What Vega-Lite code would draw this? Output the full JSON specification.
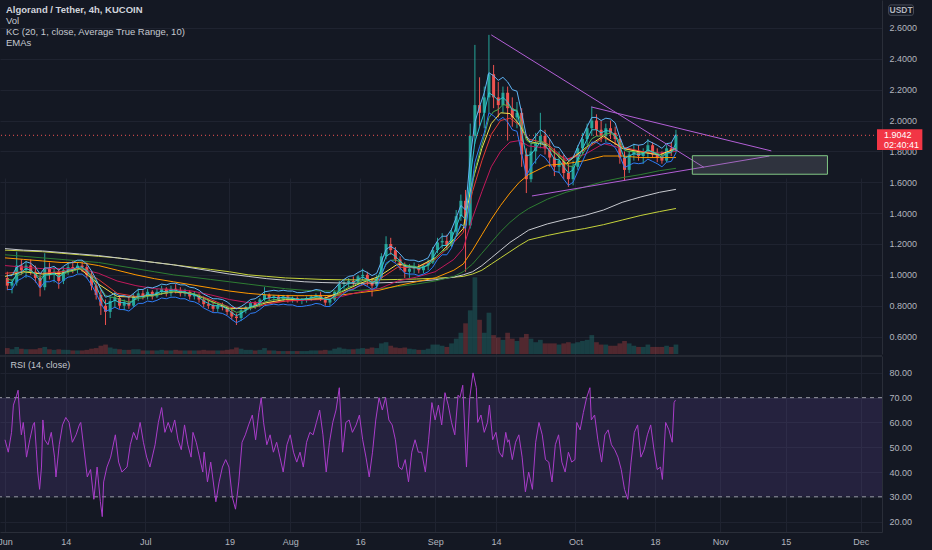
{
"$schema":"https://vega.github.io/schema/vega-lite/v6.json",
"width":882,"height":532,
"autosize":{"type":"none"},
"padding":{"left":0,"top":0,"right":50,"bottom":18},
"background":"#141823",
"config":{"view":{"stroke":null},"axis":{"labelFont":"Liberation Sans","labelFontSize":9,"labelColor":"#b2b5be","gridColor":"#1f2330","domainColor":"#2a2e39","ticks":false}},
"title":{"text":"Algorand / Tether, 4h, KUCOIN","subtitle":["Vol","KC (20, 1, close, Average True Range, 10)","EMAs"],"anchor":"start","frame":"group","orient":"top","offset":-47,"dx":6,"font":"Liberation Sans","fontSize":9.5,"fontWeight":"bold","color":"#d1d4dc","subtitleFont":"Liberation Sans","subtitleFontSize":9.5,"subtitleColor":"#c5c8d0","subtitleLineHeight":11,"subtitlePadding":1},
"datasets":{
"bars":[
{"d":0.5,"o":0.98,"h":1.02,"l":0.9,"c":0.93,"v":0.5,"u":0.995,"w":0.905,"s":0.95,"g":0.972},
{"d":1.5,"o":0.93,"h":0.97,"l":0.88,"c":0.95,"v":0.4,"u":0.995,"w":0.905,"s":0.95,"g":0.965},
{"d":2.5,"o":0.95,"h":1.15,"l":0.93,"c":1.06,"v":0.6,"u":1.05,"w":0.96,"s":1.005,"g":0.994},
{"d":3.5,"o":1.06,"h":1.1,"l":1.0,"c":1.03,"v":0.45,"u":1.065,"w":0.975,"s":1.02,"g":1.005},
{"d":4.5,"o":1.03,"h":1.09,"l":0.98,"c":1.06,"v":0.4,"u":1.085,"w":0.995,"s":1.04,"g":1.021},
{"d":5.5,"o":1.06,"h":1.1,"l":1.0,"c":1.02,"v":0.4,"u":1.075,"w":0.985,"s":1.03,"g":1.021},
{"d":6.5,"o":1.02,"h":1.06,"l":0.95,"c":0.98,"v":0.4,"u":1.05,"w":0.96,"s":1.005,"g":1.009},
{"d":7.5,"o":0.98,"h":1.0,"l":0.86,"c":0.92,"v":0.5,"u":1.005,"w":0.915,"s":0.96,"g":0.982},
{"d":8.5,"o":0.92,"h":1.14,"l":0.9,"c":1.04,"v":0.6,"u":1.045,"w":0.955,"s":1.0,"g":1.0},
{"d":9.5,"o":1.04,"h":1.08,"l":0.97,"c":1.0,"v":0.4,"u":1.045,"w":0.955,"s":1.0,"g":1.0},
{"d":10.5,"o":1.0,"h":1.05,"l":0.95,"c":1.02,"v":0.35,"u":1.055,"w":0.965,"s":1.01,"g":1.006},
{"d":11.5,"o":1.02,"h":1.04,"l":0.91,"c":0.96,"v":0.4,"u":1.03,"w":0.94,"s":0.985,"g":0.992},
{"d":12.5,"o":0.96,"h":1.05,"l":0.94,"c":1.03,"v":0.35,"u":1.055,"w":0.965,"s":1.01,"g":1.004},
{"d":13.5,"o":1.03,"h":1.08,"l":1.0,"c":1.05,"v":0.35,"u":1.075,"w":0.985,"s":1.03,"g":1.018},
{"d":14.5,"o":1.05,"h":1.09,"l":1.01,"c":1.04,"v":0.3,"u":1.08,"w":0.99,"s":1.035,"g":1.024},
{"d":15.5,"o":1.04,"h":1.08,"l":1.01,"c":1.06,"v":0.3,"u":1.095,"w":1.005,"s":1.05,"g":1.035},
{"d":16.5,"o":1.06,"h":1.09,"l":1.02,"c":1.05,"v":0.3,"u":1.095,"w":1.005,"s":1.05,"g":1.039},
{"d":17.5,"o":1.05,"h":1.08,"l":0.98,"c":1.0,"v":0.35,"u":1.07,"w":0.98,"s":1.025,"g":1.028},
{"d":18.5,"o":1.0,"h":1.02,"l":0.9,"c":0.93,"v":0.45,"u":1.025,"w":0.935,"s":0.98,"g":0.998},
{"d":19.5,"o":0.93,"h":0.96,"l":0.84,"c":0.87,"v":0.5,"u":0.97,"w":0.88,"s":0.925,"g":0.96},
{"d":20.5,"o":0.87,"h":0.9,"l":0.74,"c":0.8,"v":0.7,"u":0.905,"w":0.815,"s":0.86,"g":0.912},
{"d":21.5,"o":0.8,"h":0.84,"l":0.675,"c":0.76,"v":0.8,"u":0.855,"w":0.765,"s":0.81,"g":0.866},
{"d":22.5,"o":0.76,"h":0.86,"l":0.72,"c":0.83,"v":0.55,"u":0.865,"w":0.775,"s":0.82,"g":0.855},
{"d":23.5,"o":0.83,"h":0.89,"l":0.79,"c":0.85,"v":0.45,"u":0.88,"w":0.79,"s":0.835,"g":0.854},
{"d":24.5,"o":0.85,"h":0.87,"l":0.78,"c":0.8,"v":0.4,"u":0.865,"w":0.775,"s":0.82,"g":0.838},
{"d":25.5,"o":0.8,"h":0.84,"l":0.77,"c":0.82,"v":0.35,"u":0.865,"w":0.775,"s":0.82,"g":0.832},
{"d":26.5,"o":0.82,"h":0.86,"l":0.78,"c":0.8,"v":0.35,"u":0.855,"w":0.765,"s":0.81,"g":0.823},
{"d":27.5,"o":0.8,"h":0.88,"l":0.79,"c":0.86,"v":0.4,"u":0.88,"w":0.79,"s":0.835,"g":0.834},
{"d":28.5,"o":0.86,"h":0.91,"l":0.83,"c":0.88,"v":0.4,"u":0.905,"w":0.815,"s":0.86,"g":0.848},
{"d":29.5,"o":0.88,"h":0.9,"l":0.84,"c":0.86,"v":0.3,"u":0.905,"w":0.815,"s":0.86,"g":0.851},
{"d":30.5,"o":0.86,"h":0.91,"l":0.84,"c":0.89,"v":0.3,"u":0.92,"w":0.83,"s":0.875,"g":0.863},
{"d":31.5,"o":0.89,"h":0.9,"l":0.84,"c":0.86,"v":0.3,"u":0.915,"w":0.825,"s":0.87,"g":0.862},
{"d":32.5,"o":0.86,"h":0.91,"l":0.85,"c":0.89,"v":0.3,"u":0.925,"w":0.835,"s":0.88,"g":0.87},
{"d":33.5,"o":0.89,"h":0.93,"l":0.87,"c":0.91,"v":0.35,"u":0.94,"w":0.85,"s":0.895,"g":0.882},
{"d":34.5,"o":0.91,"h":0.92,"l":0.86,"c":0.88,"v":0.3,"u":0.935,"w":0.845,"s":0.89,"g":0.881},
{"d":35.5,"o":0.88,"h":0.93,"l":0.86,"c":0.91,"v":0.3,"u":0.945,"w":0.855,"s":0.9,"g":0.89},
{"d":36.5,"o":0.91,"h":0.94,"l":0.88,"c":0.9,"v":0.35,"u":0.945,"w":0.855,"s":0.9,"g":0.893},
{"d":37.5,"o":0.9,"h":0.92,"l":0.86,"c":0.88,"v":0.3,"u":0.935,"w":0.845,"s":0.89,"g":0.889},
{"d":38.5,"o":0.88,"h":0.91,"l":0.86,"c":0.89,"v":0.3,"u":0.935,"w":0.845,"s":0.89,"g":0.889},
{"d":39.5,"o":0.89,"h":0.9,"l":0.84,"c":0.86,"v":0.3,"u":0.92,"w":0.83,"s":0.875,"g":0.88},
{"d":40.5,"o":0.86,"h":0.89,"l":0.84,"c":0.87,"v":0.3,"u":0.915,"w":0.825,"s":0.87,"g":0.877},
{"d":41.5,"o":0.87,"h":0.88,"l":0.82,"c":0.84,"v":0.3,"u":0.9,"w":0.81,"s":0.855,"g":0.866},
{"d":42.5,"o":0.84,"h":0.86,"l":0.79,"c":0.81,"v":0.35,"u":0.875,"w":0.785,"s":0.83,"g":0.849},
{"d":43.5,"o":0.81,"h":0.84,"l":0.78,"c":0.8,"v":0.3,"u":0.86,"w":0.77,"s":0.815,"g":0.834},
{"d":44.5,"o":0.8,"h":0.82,"l":0.76,"c":0.78,"v":0.3,"u":0.845,"w":0.755,"s":0.8,"g":0.818},
{"d":45.5,"o":0.78,"h":0.81,"l":0.76,"c":0.8,"v":0.3,"u":0.845,"w":0.755,"s":0.8,"g":0.813},
{"d":46.5,"o":0.8,"h":0.82,"l":0.77,"c":0.79,"v":0.3,"u":0.84,"w":0.75,"s":0.795,"g":0.806},
{"d":47.5,"o":0.79,"h":0.8,"l":0.74,"c":0.76,"v":0.35,"u":0.825,"w":0.735,"s":0.78,"g":0.792},
{"d":48.5,"o":0.76,"h":0.78,"l":0.71,"c":0.73,"v":0.4,"u":0.8,"w":0.71,"s":0.755,"g":0.773},
{"d":49.5,"o":0.73,"h":0.75,"l":0.675,"c":0.72,"v":0.55,"u":0.78,"w":0.69,"s":0.735,"g":0.757},
{"d":50.5,"o":0.72,"h":0.78,"l":0.7,"c":0.77,"v":0.45,"u":0.795,"w":0.705,"s":0.75,"g":0.761},
{"d":51.5,"o":0.77,"h":0.8,"l":0.75,"c":0.79,"v":0.35,"u":0.815,"w":0.725,"s":0.77,"g":0.77},
{"d":52.5,"o":0.79,"h":0.83,"l":0.77,"c":0.82,"v":0.35,"u":0.84,"w":0.75,"s":0.795,"g":0.785},
{"d":53.5,"o":0.82,"h":0.83,"l":0.78,"c":0.8,"v":0.3,"u":0.845,"w":0.755,"s":0.8,"g":0.79},
{"d":54.5,"o":0.8,"h":0.85,"l":0.79,"c":0.84,"v":0.35,"u":0.865,"w":0.775,"s":0.82,"g":0.805},
{"d":55.5,"o":0.84,"h":0.92,"l":0.83,"c":0.87,"v":0.5,"u":0.89,"w":0.8,"s":0.845,"g":0.824},
{"d":56.5,"o":0.87,"h":0.88,"l":0.83,"c":0.85,"v":0.3,"u":0.895,"w":0.805,"s":0.85,"g":0.832},
{"d":57.5,"o":0.85,"h":0.87,"l":0.83,"c":0.86,"v":0.3,"u":0.9,"w":0.81,"s":0.855,"g":0.84},
{"d":58.5,"o":0.86,"h":0.87,"l":0.83,"c":0.84,"v":0.25,"u":0.895,"w":0.805,"s":0.85,"g":0.84},
{"d":59.5,"o":0.84,"h":0.87,"l":0.83,"c":0.86,"v":0.25,"u":0.9,"w":0.81,"s":0.855,"g":0.846},
{"d":60.5,"o":0.86,"h":0.87,"l":0.82,"c":0.84,"v":0.25,"u":0.895,"w":0.805,"s":0.85,"g":0.844},
{"d":61.5,"o":0.84,"h":0.86,"l":0.82,"c":0.85,"v":0.25,"u":0.895,"w":0.805,"s":0.85,"g":0.846},
{"d":62.5,"o":0.85,"h":0.86,"l":0.82,"c":0.83,"v":0.25,"u":0.885,"w":0.795,"s":0.84,"g":0.841},
{"d":63.5,"o":0.83,"h":0.85,"l":0.81,"c":0.84,"v":0.25,"u":0.885,"w":0.795,"s":0.84,"g":0.841},
{"d":64.5,"o":0.84,"h":0.86,"l":0.82,"c":0.85,"v":0.25,"u":0.89,"w":0.8,"s":0.845,"g":0.844},
{"d":65.5,"o":0.85,"h":0.87,"l":0.83,"c":0.86,"v":0.3,"u":0.895,"w":0.805,"s":0.85,"g":0.849},
{"d":66.5,"o":0.86,"h":0.88,"l":0.84,"c":0.87,"v":0.3,"u":0.905,"w":0.815,"s":0.86,"g":0.855},
{"d":67.5,"o":0.87,"h":0.89,"l":0.83,"c":0.85,"v":0.3,"u":0.9,"w":0.81,"s":0.855,"g":0.854},
{"d":68.5,"o":0.85,"h":0.86,"l":0.8,"c":0.82,"v":0.35,"u":0.885,"w":0.795,"s":0.84,"g":0.844},
{"d":69.5,"o":0.82,"h":0.85,"l":0.8,"c":0.84,"v":0.3,"u":0.885,"w":0.795,"s":0.84,"g":0.843},
{"d":70.5,"o":0.84,"h":0.9,"l":0.83,"c":0.89,"v":0.45,"u":0.91,"w":0.82,"s":0.865,"g":0.857},
{"d":71.5,"o":0.89,"h":0.96,"l":0.88,"c":0.94,"v":0.55,"u":0.945,"w":0.855,"s":0.9,"g":0.882},
{"d":72.5,"o":0.94,"h":0.97,"l":0.91,"c":0.95,"v":0.45,"u":0.97,"w":0.88,"s":0.925,"g":0.902},
{"d":73.5,"o":0.95,"h":0.98,"l":0.92,"c":0.96,"v":0.4,"u":0.99,"w":0.9,"s":0.945,"g":0.92},
{"d":74.5,"o":0.96,"h":0.99,"l":0.92,"c":0.95,"v":0.4,"u":0.995,"w":0.905,"s":0.95,"g":0.929},
{"d":75.5,"o":0.95,"h":1.0,"l":0.94,"c":0.99,"v":0.45,"u":1.015,"w":0.925,"s":0.97,"g":0.947},
{"d":76.5,"o":0.99,"h":1.04,"l":0.96,"c":1.0,"v":0.5,"u":1.03,"w":0.94,"s":0.985,"g":0.963},
{"d":77.5,"o":1.0,"h":1.02,"l":0.93,"c":0.96,"v":0.45,"u":1.015,"w":0.925,"s":0.97,"g":0.962},
{"d":78.5,"o":0.96,"h":0.98,"l":0.86,"c":0.93,"v":0.55,"u":0.995,"w":0.905,"s":0.95,"g":0.952},
{"d":79.5,"o":0.93,"h":1.0,"l":0.91,"c":0.98,"v":0.5,"u":1.01,"w":0.92,"s":0.965,"g":0.96},
{"d":80.5,"o":0.98,"h":1.14,"l":0.97,"c":1.12,"v":0.9,"u":1.085,"w":0.995,"s":1.04,"g":1.008},
{"d":81.5,"o":1.12,"h":1.25,"l":1.1,"c":1.2,"v":1.0,"u":1.165,"w":1.075,"s":1.12,"g":1.066},
{"d":82.5,"o":1.2,"h":1.24,"l":1.13,"c":1.16,"v":0.7,"u":1.185,"w":1.095,"s":1.14,"g":1.094},
{"d":83.5,"o":1.16,"h":1.18,"l":1.08,"c":1.1,"v":0.55,"u":1.165,"w":1.075,"s":1.12,"g":1.096},
{"d":84.5,"o":1.1,"h":1.12,"l":1.03,"c":1.06,"v":0.5,"u":1.135,"w":1.045,"s":1.09,"g":1.085},
{"d":85.5,"o":1.06,"h":1.08,"l":0.98,"c":1.02,"v":0.55,"u":1.1,"w":1.01,"s":1.055,"g":1.066},
{"d":86.5,"o":1.02,"h":1.07,"l":0.98,"c":1.04,"v":0.45,"u":1.095,"w":1.005,"s":1.05,"g":1.058},
{"d":87.5,"o":1.04,"h":1.08,"l":1.01,"c":1.05,"v":0.4,"u":1.095,"w":1.005,"s":1.05,"g":1.056},
{"d":88.5,"o":1.05,"h":1.07,"l":1.01,"c":1.03,"v":0.35,"u":1.085,"w":0.995,"s":1.04,"g":1.048},
{"d":89.5,"o":1.03,"h":1.07,"l":1.01,"c":1.06,"v":0.35,"u":1.095,"w":1.005,"s":1.05,"g":1.052},
{"d":90.5,"o":1.06,"h":1.1,"l":1.03,"c":1.08,"v":0.45,"u":1.11,"w":1.02,"s":1.065,"g":1.06},
{"d":91.5,"o":1.08,"h":1.18,"l":1.07,"c":1.16,"v":0.8,"u":1.17,"w":1.05,"s":1.11,"g":1.09},
{"d":92.5,"o":1.16,"h":1.24,"l":1.14,"c":1.21,"v":0.8,"u":1.22,"w":1.1,"s":1.16,"g":1.126},
{"d":93.5,"o":1.21,"h":1.27,"l":1.17,"c":1.22,"v":0.7,"u":1.25,"w":1.13,"s":1.19,"g":1.154},
{"d":94.5,"o":1.22,"h":1.26,"l":1.16,"c":1.19,"v":0.6,"u":1.25,"w":1.13,"s":1.19,"g":1.165},
{"d":95.5,"o":1.19,"h":1.3,"l":1.18,"c":1.28,"v":0.9,"u":1.295,"w":1.175,"s":1.235,"g":1.2},
{"d":96.5,"o":1.28,"h":1.42,"l":1.26,"c":1.38,"v":1.3,"u":1.37,"w":1.25,"s":1.31,"g":1.254},
{"d":97.5,"o":1.38,"h":1.52,"l":1.35,"c":1.48,"v":1.8,"u":1.45,"w":1.33,"s":1.39,"g":1.322},
{"d":98.5,"o":1.48,"h":1.55,"l":1.02,"c":1.32,"v":2.6,"u":1.42,"w":1.3,"s":1.36,"g":1.321},
{"d":99.5,"o":1.32,"h":1.98,"l":1.3,"c":1.9,"v":3.7,"u":1.76,"w":1.5,"s":1.63,"g":1.495},
{"d":100.5,"o":1.9,"h":2.49,"l":1.85,"c":2.1,"v":6.5,"u":1.99,"w":1.73,"s":1.86,"g":1.677},
{"d":101.5,"o":2.1,"h":2.28,"l":1.96,"c":2.05,"v":2.9,"u":2.09,"w":1.83,"s":1.96,"g":1.789},
{"d":102.5,"o":2.05,"h":2.22,"l":1.95,"c":2.15,"v":1.8,"u":2.18,"w":1.92,"s":2.05,"g":1.897},
{"d":103.5,"o":2.15,"h":2.555,"l":2.05,"c":2.3,"v":3.5,"u":2.31,"w":2.05,"s":2.18,"g":2.018},
{"d":104.5,"o":2.3,"h":2.36,"l":2.08,"c":2.15,"v":1.6,"u":2.29,"w":2.03,"s":2.16,"g":2.058},
{"d":105.5,"o":2.15,"h":2.25,"l":2.02,"c":2.1,"v":1.4,"u":2.26,"w":2.0,"s":2.13,"g":2.071},
{"d":106.5,"o":2.1,"h":2.22,"l":2.05,"c":2.18,"v":1.2,"u":2.28,"w":2.02,"s":2.15,"g":2.104},
{"d":107.5,"o":2.18,"h":2.22,"l":1.87,"c":2.08,"v":1.8,"u":2.25,"w":1.99,"s":2.12,"g":2.097},
{"d":108.5,"o":2.08,"h":2.15,"l":1.96,"c":2.02,"v":1.3,"u":2.2,"w":1.94,"s":2.07,"g":2.074},
{"d":109.5,"o":2.02,"h":2.12,"l":1.95,"c":2.05,"v":1.1,"u":2.19,"w":1.93,"s":2.06,"g":2.067},
{"d":110.5,"o":2.05,"h":2.08,"l":1.7,"c":1.78,"v":1.4,"u":2.05,"w":1.79,"s":1.92,"g":1.981},
{"d":111.5,"o":1.78,"h":1.82,"l":1.53,"c":1.62,"v":1.7,"u":1.9,"w":1.64,"s":1.77,"g":1.873},
{"d":112.5,"o":1.62,"h":1.85,"l":1.6,"c":1.8,"v":1.3,"u":1.86,"w":1.7,"s":1.78,"g":1.851},
{"d":113.5,"o":1.8,"h":1.92,"l":1.72,"c":1.86,"v":1.0,"u":1.9,"w":1.74,"s":1.82,"g":1.854},
{"d":114.5,"o":1.86,"h":2.05,"l":1.82,"c":1.9,"v":1.2,"u":1.94,"w":1.78,"s":1.86,"g":1.868},
{"d":115.5,"o":1.9,"h":1.94,"l":1.78,"c":1.82,"v":0.9,"u":1.92,"w":1.76,"s":1.84,"g":1.854},
{"d":116.5,"o":1.82,"h":1.88,"l":1.7,"c":1.76,"v":0.9,"u":1.88,"w":1.72,"s":1.8,"g":1.826},
{"d":117.5,"o":1.76,"h":1.82,"l":1.64,"c":1.7,"v":0.9,"u":1.83,"w":1.67,"s":1.75,"g":1.788},
{"d":118.5,"o":1.7,"h":1.8,"l":1.66,"c":1.74,"v":0.8,"u":1.825,"w":1.665,"s":1.745,"g":1.774},
{"d":119.5,"o":1.74,"h":1.78,"l":1.62,"c":1.66,"v":0.9,"u":1.78,"w":1.62,"s":1.7,"g":1.74},
{"d":120.5,"o":1.66,"h":1.72,"l":1.57,"c":1.62,"v":1.0,"u":1.74,"w":1.58,"s":1.66,"g":1.704},
{"d":121.5,"o":1.62,"h":1.74,"l":1.58,"c":1.7,"v":0.9,"u":1.76,"w":1.6,"s":1.68,"g":1.703},
{"d":122.5,"o":1.7,"h":1.84,"l":1.68,"c":1.82,"v":1.0,"u":1.83,"w":1.67,"s":1.75,"g":1.738},
{"d":123.5,"o":1.82,"h":1.92,"l":1.78,"c":1.88,"v":1.1,"u":1.895,"w":1.735,"s":1.815,"g":1.781},
{"d":124.5,"o":1.88,"h":1.98,"l":1.84,"c":1.95,"v":1.2,"u":1.96,"w":1.8,"s":1.88,"g":1.832},
{"d":125.5,"o":1.95,"h":2.09,"l":1.9,"c":2.0,"v":1.6,"u":2.02,"w":1.86,"s":1.94,"g":1.882},
{"d":126.5,"o":2.0,"h":2.04,"l":1.9,"c":1.94,"v":1.0,"u":2.02,"w":1.86,"s":1.94,"g":1.899},
{"d":127.5,"o":1.94,"h":2.0,"l":1.86,"c":1.9,"v":0.8,"u":2.0,"w":1.84,"s":1.92,"g":1.899},
{"d":128.5,"o":1.9,"h":1.98,"l":1.86,"c":1.95,"v":0.8,"u":2.015,"w":1.855,"s":1.935,"g":1.914},
{"d":129.5,"o":1.95,"h":2.0,"l":1.88,"c":1.92,"v":0.7,"u":2.01,"w":1.85,"s":1.93,"g":1.916},
{"d":130.5,"o":1.92,"h":1.96,"l":1.84,"c":1.88,"v":0.7,"u":1.985,"w":1.825,"s":1.905,"g":1.905},
{"d":131.5,"o":1.88,"h":1.9,"l":1.72,"c":1.76,"v":0.9,"u":1.89,"w":1.77,"s":1.83,"g":1.862},
{"d":132.5,"o":1.76,"h":1.8,"l":1.61,"c":1.68,"v":1.1,"u":1.815,"w":1.695,"s":1.755,"g":1.807},
{"d":133.5,"o":1.68,"h":1.8,"l":1.66,"c":1.78,"v":0.9,"u":1.83,"w":1.71,"s":1.77,"g":1.799},
{"d":134.5,"o":1.78,"h":1.85,"l":1.74,"c":1.8,"v":0.7,"u":1.845,"w":1.725,"s":1.785,"g":1.799},
{"d":135.5,"o":1.8,"h":1.84,"l":1.74,"c":1.77,"v":0.6,"u":1.84,"w":1.72,"s":1.78,"g":1.79},
{"d":136.5,"o":1.77,"h":1.82,"l":1.72,"c":1.79,"v":0.6,"u":1.845,"w":1.725,"s":1.785,"g":1.79},
{"d":137.5,"o":1.79,"h":1.88,"l":1.76,"c":1.84,"v":0.8,"u":1.87,"w":1.75,"s":1.81,"g":1.805},
{"d":138.5,"o":1.84,"h":1.86,"l":1.76,"c":1.78,"v":0.6,"u":1.855,"w":1.735,"s":1.795,"g":1.798},
{"d":139.5,"o":1.78,"h":1.82,"l":1.73,"c":1.76,"v":0.6,"u":1.84,"w":1.72,"s":1.78,"g":1.787},
{"d":140.5,"o":1.76,"h":1.8,"l":1.72,"c":1.74,"v":0.6,"u":1.82,"w":1.7,"s":1.76,"g":1.773},
{"d":141.5,"o":1.74,"h":1.84,"l":1.73,"c":1.82,"v":0.7,"u":1.85,"w":1.73,"s":1.79,"g":1.787},
{"d":142.5,"o":1.82,"h":1.86,"l":1.77,"c":1.8,"v":0.6,"u":1.855,"w":1.735,"s":1.795,"g":1.791},
{"d":143.5,"o":1.8,"h":1.94,"l":1.79,"c":1.904,"v":0.8,"u":1.91,"w":1.79,"s":1.85,"g":1.825}
],
"ema":[
{"d":0,"ye":0.99,"re":1.01,"mg":1.06,"or":1.11,"dg":1.13,"gy":1.17,"ol":1.16},
{"d":4,"ye":1.02,"re":1.02,"mg":1.05,"or":1.1,"dg":1.12,"gy":1.16,"ol":1.155},
{"d":8,"ye":1.005,"re":1.01,"mg":1.04,"or":1.09,"dg":1.11,"gy":1.155,"ol":1.15},
{"d":12,"ye":1.01,"re":1.02,"mg":1.04,"or":1.08,"dg":1.1,"gy":1.145,"ol":1.14},
{"d":16,"ye":1.04,"re":1.04,"mg":1.04,"or":1.08,"dg":1.09,"gy":1.135,"ol":1.13},
{"d":20,"ye":0.94,"re":0.97,"mg":1.01,"or":1.06,"dg":1.08,"gy":1.125,"ol":1.12},
{"d":24,"ye":0.86,"re":0.88,"mg":0.96,"or":1.03,"dg":1.06,"gy":1.11,"ol":1.11},
{"d":28,"ye":0.855,"re":0.86,"mg":0.93,"or":1.0,"dg":1.04,"gy":1.095,"ol":1.095},
{"d":32,"ye":0.87,"re":0.87,"mg":0.91,"or":0.975,"dg":1.02,"gy":1.08,"ol":1.08},
{"d":36,"ye":0.89,"re":0.89,"mg":0.905,"or":0.955,"dg":1.0,"gy":1.065,"ol":1.065},
{"d":40,"ye":0.88,"re":0.88,"mg":0.895,"or":0.935,"dg":0.985,"gy":1.045,"ol":1.05},
{"d":44,"ye":0.83,"re":0.84,"mg":0.87,"or":0.915,"dg":0.97,"gy":1.025,"ol":1.035},
{"d":48,"ye":0.78,"re":0.79,"mg":0.84,"or":0.895,"dg":0.955,"gy":1.005,"ol":1.02},
{"d":52,"ye":0.785,"re":0.78,"mg":0.82,"or":0.88,"dg":0.94,"gy":0.99,"ol":1.0},
{"d":56,"ye":0.82,"re":0.81,"mg":0.82,"or":0.87,"dg":0.925,"gy":0.975,"ol":0.99},
{"d":60,"ye":0.84,"re":0.83,"mg":0.83,"or":0.865,"dg":0.91,"gy":0.965,"ol":0.98},
{"d":64,"ye":0.842,"re":0.84,"mg":0.835,"or":0.865,"dg":0.9,"gy":0.955,"ol":0.975},
{"d":68,"ye":0.845,"re":0.845,"mg":0.84,"or":0.865,"dg":0.895,"gy":0.95,"ol":0.97},
{"d":72,"ye":0.89,"re":0.88,"mg":0.86,"or":0.87,"dg":0.895,"gy":0.947,"ol":0.968},
{"d":76,"ye":0.945,"re":0.93,"mg":0.89,"or":0.885,"dg":0.9,"gy":0.945,"ol":0.967},
{"d":80,"ye":0.99,"re":0.97,"mg":0.91,"or":0.9,"dg":0.91,"gy":0.948,"ol":0.968},
{"d":84,"ye":1.07,"re":1.05,"mg":0.96,"or":0.93,"dg":0.925,"gy":0.952,"ol":0.97},
{"d":88,"ye":1.047,"re":1.045,"mg":0.985,"or":0.955,"dg":0.94,"gy":0.958,"ol":0.973},
{"d":92,"ye":1.11,"re":1.1,"mg":1.02,"or":0.98,"dg":0.96,"gy":0.968,"ol":0.978},
{"d":96,"ye":1.23,"re":1.21,"mg":1.1,"or":1.03,"dg":0.99,"gy":0.985,"ol":0.985},
{"d":98,"ye":1.3,"re":1.275,"mg":1.17,"or":1.07,"dg":1.02,"gy":1.0,"ol":0.99},
{"d":100,"ye":1.61,"re":1.54,"mg":1.37,"or":1.16,"dg":1.07,"gy":1.02,"ol":1.005},
{"d":102,"ye":1.82,"re":1.74,"mg":1.54,"or":1.26,"dg":1.14,"gy":1.06,"ol":1.03},
{"d":104,"ye":1.98,"re":1.91,"mg":1.7,"or":1.36,"dg":1.21,"gy":1.11,"ol":1.07},
{"d":106,"ye":2.05,"re":2.0,"mg":1.8,"or":1.45,"dg":1.28,"gy":1.16,"ol":1.11},
{"d":108,"ye":2.045,"re":2.015,"mg":1.86,"or":1.53,"dg":1.34,"gy":1.21,"ol":1.15},
{"d":110,"ye":1.975,"re":1.97,"mg":1.87,"or":1.6,"dg":1.39,"gy":1.25,"ol":1.19},
{"d":112,"ye":1.865,"re":1.88,"mg":1.835,"or":1.65,"dg":1.43,"gy":1.29,"ol":1.226},
{"d":116,"ye":1.84,"re":1.85,"mg":1.82,"or":1.71,"dg":1.49,"gy":1.33,"ol":1.255},
{"d":120,"ye":1.72,"re":1.74,"mg":1.75,"or":1.72,"dg":1.535,"gy":1.36,"ol":1.28},
{"d":124,"ye":1.82,"re":1.81,"mg":1.78,"or":1.74,"dg":1.57,"gy":1.385,"ol":1.3},
{"d":128,"ye":1.9,"re":1.89,"mg":1.85,"or":1.77,"dg":1.605,"gy":1.42,"ol":1.325},
{"d":132,"ye":1.82,"re":1.83,"mg":1.82,"or":1.77,"dg":1.63,"gy":1.47,"ol":1.355},
{"d":136,"ye":1.795,"re":1.8,"mg":1.8,"or":1.76,"dg":1.65,"gy":1.505,"ol":1.385},
{"d":140,"ye":1.777,"re":1.78,"mg":1.79,"or":1.76,"dg":1.675,"gy":1.535,"ol":1.41},
{"d":143.5,"ye":1.82,"re":1.815,"mg":1.8,"or":1.76,"dg":1.69,"gy":1.554,"ol":1.43}
],
"rsi":[
{"d":0.0,"r":53},{"d":0.7,"r":48},{"d":1.4,"r":56},{"d":1.8,"r":67},{"d":2.5,"r":71},{"d":2.8,"r":73},{"d":3.2,"r":61},{"d":3.5,"r":55},{"d":3.9,"r":60},{"d":4.2,"r":55},{"d":4.6,"r":46},{"d":5.3,"r":53},{"d":6.0,"r":59},{"d":6.3,"r":60},{"d":6.7,"r":49},{"d":7.0,"r":40},{"d":7.4,"r":33},{"d":7.8,"r":42},{"d":8.1,"r":61},{"d":8.5,"r":53},{"d":9.2,"r":51},{"d":9.9,"r":56},{"d":10.6,"r":46},{"d":10.9,"r":38},{"d":11.6,"r":51},{"d":12.3,"r":59},{"d":13.0,"r":62},{"d":13.7,"r":60},{"d":14.4,"r":52},{"d":15.2,"r":55},{"d":15.9,"r":59},{"d":16.2,"r":60},{"d":16.9,"r":49},{"d":17.6,"r":38},{"d":18.3,"r":41},{"d":19.0,"r":29},{"d":19.7,"r":42},{"d":20.4,"r":28},{"d":20.8,"r":22},{"d":21.1,"r":36},{"d":21.8,"r":42},{"d":22.6,"r":46},{"d":23.6,"r":55},{"d":24.3,"r":44},{"d":25.0,"r":40},{"d":26.1,"r":42},{"d":26.8,"r":51},{"d":27.5,"r":56},{"d":28.2,"r":53},{"d":28.9,"r":60},{"d":29.6,"r":52},{"d":30.3,"r":46},{"d":31.0,"r":42},{"d":32.1,"r":51},{"d":32.8,"r":60},{"d":33.5,"r":66},{"d":34.2,"r":56},{"d":34.9,"r":60},{"d":35.6,"r":56},{"d":36.3,"r":61},{"d":37.0,"r":53},{"d":37.7,"r":49},{"d":38.4,"r":59},{"d":39.1,"r":51},{"d":39.8,"r":46},{"d":40.2,"r":56},{"d":40.9,"r":52},{"d":41.6,"r":46},{"d":42.3,"r":40},{"d":42.6,"r":48},{"d":43.3,"r":36},{"d":44.0,"r":44},{"d":45.1,"r":28},{"d":45.8,"r":36},{"d":46.5,"r":42},{"d":47.2,"r":45},{"d":47.9,"r":42},{"d":48.6,"r":30},{"d":49.3,"r":25},{"d":50.0,"r":36},{"d":50.7,"r":52},{"d":51.4,"r":55},{"d":52.1,"r":59},{"d":52.9,"r":63},{"d":53.6,"r":53},{"d":54.3,"r":64},{"d":54.8,"r":70},{"d":55.3,"r":60},{"d":56.0,"r":51},{"d":56.7,"r":55},{"d":57.4,"r":48},{"d":58.1,"r":52},{"d":58.8,"r":46},{"d":59.5,"r":40},{"d":60.3,"r":51},{"d":61.0,"r":55},{"d":61.7,"r":48},{"d":62.4,"r":44},{"d":63.1,"r":48},{"d":63.8,"r":42},{"d":64.5,"r":52},{"d":65.2,"r":56},{"d":65.9,"r":55},{"d":66.6,"r":60},{"d":67.3,"r":65},{"d":68.0,"r":55},{"d":68.7,"r":40},{"d":69.4,"r":52},{"d":70.1,"r":60},{"d":70.8,"r":65},{"d":71.5,"r":74},{"d":72.2,"r":48},{"d":72.9,"r":60},{"d":73.6,"r":61},{"d":74.3,"r":56},{"d":75.1,"r":59},{"d":75.8,"r":63},{"d":76.5,"r":53},{"d":77.2,"r":46},{"d":77.9,"r":38},{"d":78.6,"r":48},{"d":79.3,"r":61},{"d":80.0,"r":70},{"d":80.7,"r":65},{"d":81.4,"r":70},{"d":82.1,"r":61},{"d":82.8,"r":59},{"d":83.5,"r":53},{"d":84.2,"r":42},{"d":84.9,"r":41},{"d":85.6,"r":45},{"d":86.3,"r":36},{"d":87.0,"r":48},{"d":87.7,"r":53},{"d":88.4,"r":48},{"d":89.1,"r":48},{"d":89.9,"r":40},{"d":90.6,"r":53},{"d":91.3,"r":68},{"d":92.0,"r":61},{"d":92.7,"r":67},{"d":93.4,"r":59},{"d":94.1,"r":72},{"d":94.8,"r":67},{"d":95.5,"r":60},{"d":96.2,"r":55},{"d":96.9,"r":71},{"d":97.3,"r":70},{"d":97.9,"r":75},{"d":98.7,"r":42},{"d":99.4,"r":70},{"d":100.1,"r":80},{"d":100.8,"r":74},{"d":101.1,"r":60},{"d":101.8,"r":63},{"d":102.5,"r":56},{"d":103.2,"r":60},{"d":103.6,"r":67},{"d":104.3,"r":53},{"d":105.0,"r":56},{"d":105.7,"r":48},{"d":106.4,"r":46},{"d":107.1,"r":56},{"d":107.5,"r":52},{"d":107.8,"r":53},{"d":108.5,"r":45},{"d":109.2,"r":52},{"d":109.9,"r":55},{"d":110.6,"r":46},{"d":111.3,"r":32},{"d":112.0,"r":40},{"d":112.8,"r":33},{"d":113.5,"r":52},{"d":114.2,"r":60},{"d":114.9,"r":55},{"d":115.6,"r":45},{"d":116.3,"r":44},{"d":117.0,"r":36},{"d":117.7,"r":51},{"d":118.4,"r":55},{"d":119.1,"r":44},{"d":119.8,"r":40},{"d":120.5,"r":48},{"d":121.2,"r":44},{"d":121.9,"r":45},{"d":122.3,"r":60},{"d":123.0,"r":57},{"d":123.7,"r":64},{"d":124.4,"r":70},{"d":125.1,"r":74},{"d":125.4,"r":61},{"d":126.1,"r":63},{"d":126.8,"r":53},{"d":127.6,"r":44},{"d":128.3,"r":55},{"d":129.0,"r":57},{"d":129.7,"r":51},{"d":130.4,"r":49},{"d":131.1,"r":46},{"d":131.8,"r":41},{"d":132.5,"r":33},{"d":133.2,"r":29},{"d":133.9,"r":44},{"d":134.6,"r":56},{"d":135.3,"r":59},{"d":136.0,"r":46},{"d":136.7,"r":49},{"d":137.4,"r":55},{"d":138.1,"r":59},{"d":138.8,"r":49},{"d":139.5,"r":41},{"d":140.2,"r":42},{"d":140.6,"r":37},{"d":141.3,"r":60},{"d":142.0,"r":57},{"d":142.7,"r":52},{"d":143.1,"r":68},{"d":143.4,"r":69}
],
"tl":[{"id":1,"d":104.0,"p":2.555},{"id":1,"d":149.5,"p":1.696},{"id":2,"d":125.4,"p":2.088},{"id":2,"d":163.9,"p":1.803},{"id":3,"d":112.7,"p":1.511},{"id":3,"d":163.5,"p":1.77}],
"zone":[{"d1":147.0,"d2":175.9,"p1":1.772,"p2":1.652}]
},
"layer":[
{"layer":[
 {"data":{"name":"bars"},"mark":{"type":"bar","width":4.7,"opacity":0.28},
  "encoding":{
   "x":{"field":"d","type":"quantitative","scale":{"domain":[0,186.5],"nice":false,"zero":false},
     "axis":{"orient":"bottom","title":null,"values":[0,13,30,48,61,76,92,105,122,139,153,167,183],
       "labelExpr":"['Jun','14','Jul','19','Aug','16','Sep','14','Oct','18','Nov','15','Dec'][indexof([0,13,30,48,61,76,92,105,122,139,153,167,183], datum.value)]",
       "grid":true,"labelPadding":5,"labelOverlap":false,"labelFlush":false,"labelBound":false}},
   "y":{"field":"v","type":"quantitative","scale":{"domain":[0,30],"range":[354,0],"nice":false},"axis":null},
   "color":{"condition":{"test":"datum.c >= datum.o","value":"#26a69a"},"value":"#ef5350"}}}
]},
{"layer":[
 {"data":{"name":"bars"},"mark":{"type":"rule","strokeWidth":1},
  "encoding":{
   "x":{"field":"d","type":"quantitative","scale":{"domain":[0,186.5],"nice":false,"zero":false}},
   "y":{"field":"l","type":"quantitative","scale":{"domain":[0.487,2.781],"range":[354,0],"nice":false,"zero":false},
     "axis":{"orient":"right","title":null,"values":[0.6,0.8,1,1.2,1.4,1.6,1.8,2,2.2,2.4,2.6],"format":".4f","grid":true,"labelPadding":7}},
   "y2":{"field":"h"},
   "color":{"condition":{"test":"datum.c >= datum.o","value":"#26a69a"},"value":"#ef5350"}}},
 {"data":{"name":"bars"},"mark":{"type":"bar","width":3},
  "encoding":{
   "x":{"field":"d","type":"quantitative","scale":{"domain":[0,186.5],"nice":false,"zero":false}},
   "y":{"field":"o","type":"quantitative","scale":{"domain":[0.487,2.781],"range":[354,0],"nice":false,"zero":false}},
   "y2":{"field":"c"},
   "color":{"condition":{"test":"datum.c >= datum.o","value":"#26a69a"},"value":"#ef5350"}}},
 {"data":{"name":"ema"},"transform":[{"fold":["ol","gy","dg","or","mg","re","ye"],"as":["k","val"]}],
  "mark":{"type":"line","strokeWidth":1},
  "encoding":{
   "x":{"field":"d","type":"quantitative","scale":{"domain":[0,186.5],"nice":false,"zero":false}},
   "y":{"field":"val","type":"quantitative","scale":{"domain":[0.487,2.781],"range":[354,0],"nice":false,"zero":false}},
   "color":{"field":"k","type":"nominal","legend":null,"scale":{"domain":["u","w","s","g","ye","re","mg","or","dg","gy","ol"],"range":["#5fb4f5","#2f7df6","#2ec4d6","#4caf50","#f5e04a","#e53935","#c2185b","#ff9800","#2e7d32","#c7c9cf","#c6d33b"]}}}},
 {"data":{"name":"bars"},"transform":[{"fold":["g","s","w","u"],"as":["k","val"]}],
  "mark":{"type":"line","strokeWidth":1},
  "encoding":{
   "x":{"field":"d","type":"quantitative","scale":{"domain":[0,186.5],"nice":false,"zero":false}},
   "y":{"field":"val","type":"quantitative","scale":{"domain":[0.487,2.781],"range":[354,0],"nice":false,"zero":false}},
   "color":{"field":"k","type":"nominal","legend":null,"scale":{"domain":["u","w","s","g","ye","re","mg","or","dg","gy","ol"],"range":["#5fb4f5","#2f7df6","#2ec4d6","#4caf50","#f5e04a","#e53935","#c2185b","#ff9800","#2e7d32","#c7c9cf","#c6d33b"]}}}},
 {"data":{"name":"tl"},"mark":{"type":"line","color":"#b35fd6","strokeWidth":1},
  "encoding":{
   "x":{"field":"d","type":"quantitative","scale":{"domain":[0,186.5],"nice":false,"zero":false}},
   "y":{"field":"p","type":"quantitative","scale":{"domain":[0.487,2.781],"range":[354,0],"nice":false,"zero":false}},
   "detail":{"field":"id","type":"nominal"}}},
 {"data":{"name":"zone"},"mark":{"type":"rect","fill":"#787b86","fillOpacity":0.28,"stroke":"#81c784","strokeWidth":1},
  "encoding":{
   "x":{"field":"d1","type":"quantitative","scale":{"domain":[0,186.5],"nice":false,"zero":false}},
   "x2":{"field":"d2"},
   "y":{"field":"p1","type":"quantitative","scale":{"domain":[0.487,2.781],"range":[354,0],"nice":false,"zero":false}},
   "y2":{"field":"p2"}}},
 {"data":{"values":[{}]},"mark":{"type":"rule","color":"#ef5350","strokeDash":[1,3],"strokeWidth":1},
  "encoding":{"y":{"datum":1.9042,"type":"quantitative","scale":{"domain":[0.487,2.781],"range":[354,0],"nice":false,"zero":false}}}},
 {"data":{"values":[{}]},"mark":{"type":"rect","color":"#f23645"},
  "encoding":{
   "x":{"datum":186.5,"type":"quantitative","scale":{"domain":[0,186.5],"nice":false,"zero":false}},"x2":{"datum":196.2},
   "y":{"datum":1.943,"type":"quantitative","scale":{"domain":[0.487,2.781],"range":[354,0],"nice":false,"zero":false}},"y2":{"datum":1.809}}},
 {"data":{"values":[{}]},"mark":{"type":"text","align":"left","baseline":"middle","color":"#ffffff","font":"Liberation Sans","fontSize":9,"text":"1.9042"},
  "encoding":{
   "x":{"datum":188.0,"type":"quantitative","scale":{"domain":[0,186.5],"nice":false,"zero":false}},
   "y":{"datum":1.9042,"type":"quantitative","scale":{"domain":[0.487,2.781],"range":[354,0],"nice":false,"zero":false}}}},
 {"data":{"values":[{}]},"mark":{"type":"text","align":"left","baseline":"middle","color":"#ffffff","font":"Liberation Sans","fontSize":9,"text":"02:40:41"},
  "encoding":{
   "x":{"datum":188.0,"type":"quantitative","scale":{"domain":[0,186.5],"nice":false,"zero":false}},
   "y":{"datum":1.8445,"type":"quantitative","scale":{"domain":[0.487,2.781],"range":[354,0],"nice":false,"zero":false}}}},
 {"data":{"values":[{}]},"mark":{"type":"rect","fillOpacity":0,"stroke":"#4a4e5a","strokeWidth":1,"cornerRadius":2},
  "encoding":{
   "x":{"datum":189.0,"type":"quantitative","scale":{"domain":[0,186.5],"nice":false,"zero":false}},"x2":{"datum":194.3},
   "y":{"datum":2.749,"type":"quantitative","scale":{"domain":[0.487,2.781],"range":[354,0],"nice":false,"zero":false}},"y2":{"datum":2.682}}},
 {"data":{"values":[{}]},"mark":{"type":"text","align":"center","baseline":"middle","color":"#b2b5be","font":"Liberation Sans","fontSize":8.5,"fontWeight":"bold","text":"USDT"},
  "encoding":{
   "x":{"datum":191.65,"type":"quantitative","scale":{"domain":[0,186.5],"nice":false,"zero":false}},
   "y":{"datum":2.716,"type":"quantitative","scale":{"domain":[0.487,2.781],"range":[354,0],"nice":false,"zero":false}}}}
]},
{"layer":[
 {"data":{"values":[{}]},"mark":{"type":"rect","color":"#7e57c2","opacity":0.17},
  "encoding":{
   "y":{"datum":70,"type":"quantitative","scale":{"domain":[15.8,86.8],"range":[532,356],"nice":false,"zero":false},
     "axis":{"orient":"right","title":null,"values":[20,30,40,50,60,70,80],"format":".2f","grid":true,"labelPadding":7}},
   "y2":{"datum":30}}},
 {"data":{"values":[{}]},"mark":{"type":"rule","color":"#9598a1","strokeDash":[4,4],"strokeWidth":1},
  "encoding":{"y":{"datum":70,"type":"quantitative","scale":{"domain":[15.8,86.8],"range":[532,356],"nice":false,"zero":false}}}},
 {"data":{"values":[{}]},"mark":{"type":"rule","color":"#9598a1","strokeDash":[4,4],"strokeWidth":1},
  "encoding":{"y":{"datum":30,"type":"quantitative","scale":{"domain":[15.8,86.8],"range":[532,356],"nice":false,"zero":false}}}},
 {"data":{"values":[{}]},"mark":{"type":"rule","color":"#2a2e39","strokeWidth":1.5},
  "encoding":{"y":{"datum":86.8,"type":"quantitative","scale":{"domain":[15.8,86.8],"range":[532,356],"nice":false,"zero":false}}}},
 {"data":{"name":"rsi"},"mark":{"type":"line","color":"#a93cc9","strokeWidth":1},
  "encoding":{
   "x":{"field":"d","type":"quantitative","scale":{"domain":[0,186.5],"nice":false,"zero":false}},
   "y":{"field":"r","type":"quantitative","scale":{"domain":[15.8,86.8],"range":[532,356],"nice":false,"zero":false}}}},
 {"data":{"values":[{}]},"mark":{"type":"text","align":"left","baseline":"middle","color":"#c5c8d0","font":"Liberation Sans","fontSize":9,"text":"RSI (14, close)"},
  "encoding":{
   "x":{"datum":1.2,"type":"quantitative","scale":{"domain":[0,186.5],"nice":false,"zero":false}},
   "y":{"datum":83.2,"type":"quantitative","scale":{"domain":[15.8,86.8],"range":[532,356],"nice":false,"zero":false}}}}
]}
],
"resolve":{"scale":{"y":"independent"},"axis":{"y":"independent"}}
}
